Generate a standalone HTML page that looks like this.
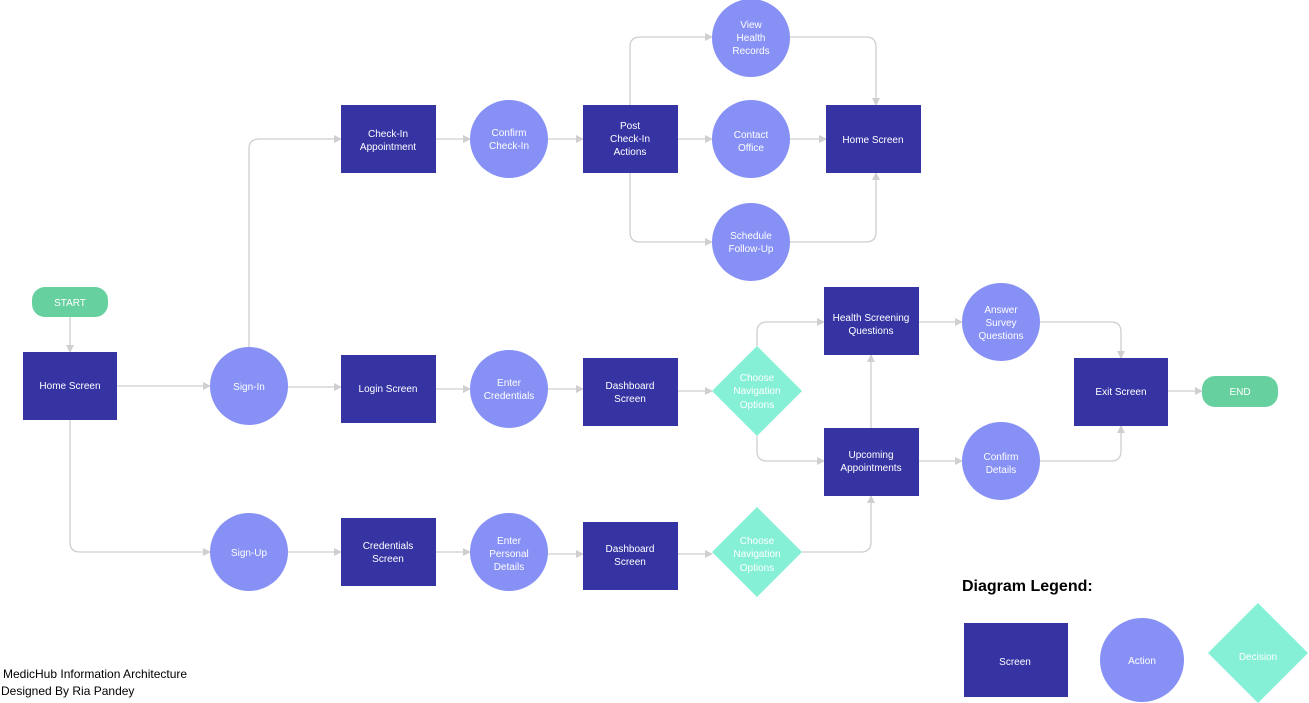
<!DOCTYPE html>
<html><head><meta charset="utf-8"><style>
html,body{margin:0;padding:0;background:#fff;}
svg{display:block}
text{font-family:"Liberation Sans",sans-serif;font-size:10px;fill:#fff;text-anchor:middle;}
.r{fill:#3633a3}
.c{fill:#8690f5}
.d{fill:#86f0d7}
.p{fill:#66d19e}
.l{fill:none;stroke:#d0cece;stroke-width:1.3}
</style></head><body>
<svg width="1309" height="703" viewBox="0 0 1309 703">
<defs><marker id="a" markerWidth="8" markerHeight="8" refX="7" refY="4" orient="auto" markerUnits="userSpaceOnUse"><path d="M0,0 L8,4 L0,8 z" fill="#d0cece"/></marker></defs>
<g class="l" marker-end="url(#a)">
<path d="M70,317 V352"/>
<path d="M117,386 H210"/>
<path d="M249,347 V149 Q249,139 259,139 H341"/>
<path d="M70,420 V542 Q70,552 80,552 H210"/>
<path d="M288,387 H341"/>
<path d="M436,389 H470"/>
<path d="M548,389 H583"/>
<path d="M678,391 H712"/>
<path d="M757,346 V332 Q757,322 767,322 H824"/>
<path d="M757,436 V451 Q757,461 767,461 H824"/>
<path d="M919,322 H962"/>
<path d="M1040,322 H1111 Q1121,322 1121,332 V358"/>
<path d="M919,461 H962"/>
<path d="M1040,461 H1111 Q1121,461 1121,451 V426"/>
<path d="M871,428 V355"/>
<path d="M1168,391 H1202"/>
<path d="M802,552 H861 Q871,552 871,542 V496"/>
<path d="M288,552 H341"/>
<path d="M436,552 H470"/>
<path d="M548,554 H583"/>
<path d="M678,554 H712"/>
<path d="M436,139 H470"/>
<path d="M548,139 H583"/>
<path d="M630,105 V47 Q630,37 640,37 H712"/>
<path d="M678,139 H712"/>
<path d="M630,173 V232 Q630,242 640,242 H712"/>
<path d="M790,37 H866 Q876,37 876,47 V105"/>
<path d="M790,139 H826"/>
<path d="M790,242 H866 Q876,242 876,232 V173"/>
</g>
<rect class="p" x="32" y="287" width="76" height="30" rx="13"/><text x="70" y="306">START</text>
<rect class="r" x="23" y="352" width="94" height="68"/><text x="70" y="389">Home Screen</text>
<circle class="c" cx="249" cy="386" r="39"/><text x="249" y="390">Sign-In</text>
<rect class="r" x="341" y="355" width="95" height="68"/><text x="388" y="392">Login Screen</text>
<circle class="c" cx="509" cy="389" r="39"/><text x="509" y="386">Enter</text><text x="509" y="399">Credentials</text>
<rect class="r" x="583" y="358" width="95" height="68"/><text x="630" y="389">Dashboard</text><text x="630" y="402">Screen</text>
<polygon class="d" points="757,346 802,391 757,436 712,391"/><text x="757" y="381">Choose</text><text x="757" y="394">Navigation</text><text x="757" y="408">Options</text>
<rect class="r" x="824" y="287" width="95" height="68"/><text x="871" y="321">Health Screening</text><text x="871" y="334">Questions</text>
<circle class="c" cx="1001" cy="322" r="39"/><text x="1001" y="313">Answer</text><text x="1001" y="326">Survey</text><text x="1001" y="339">Questions</text>
<rect class="r" x="824" y="428" width="95" height="68"/><text x="871" y="458">Upcoming</text><text x="871" y="471">Appointments</text>
<circle class="c" cx="1001" cy="461" r="39"/><text x="1001" y="460">Confirm</text><text x="1001" y="473">Details</text>
<rect class="r" x="1074" y="358" width="94" height="68"/><text x="1121" y="395">Exit Screen</text>
<rect class="p" x="1202" y="376" width="76" height="31" rx="13"/><text x="1240" y="395">END</text>
<rect class="r" x="341" y="105" width="95" height="68"/><text x="388" y="137">Check-In</text><text x="388" y="150">Appointment</text>
<circle class="c" cx="509" cy="139" r="39"/><text x="509" y="136">Confirm</text><text x="509" y="149">Check-In</text>
<rect class="r" x="583" y="105" width="95" height="68"/><text x="630" y="129">Post</text><text x="630" y="142">Check-In</text><text x="630" y="155">Actions</text>
<circle class="c" cx="751" cy="38" r="39"/><text x="751" y="28">View</text><text x="751" y="41">Health</text><text x="751" y="54">Records</text>
<circle class="c" cx="751" cy="139" r="39"/><text x="751" y="138">Contact</text><text x="751" y="151">Office</text>
<circle class="c" cx="751" cy="242" r="39"/><text x="751" y="239">Schedule</text><text x="751" y="252">Follow-Up</text>
<rect class="r" x="826" y="105" width="95" height="68"/><text x="873" y="143">Home Screen</text>
<circle class="c" cx="249" cy="552" r="39"/><text x="249" y="556">Sign-Up</text>
<rect class="r" x="341" y="518" width="95" height="68"/><text x="388" y="549">Credentials</text><text x="388" y="562">Screen</text>
<circle class="c" cx="509" cy="552" r="39"/><text x="509" y="544">Enter</text><text x="509" y="557">Personal</text><text x="509" y="570">Details</text>
<rect class="r" x="583" y="522" width="95" height="68"/><text x="630" y="552">Dashboard</text><text x="630" y="565">Screen</text>
<polygon class="d" points="757,507 802,552 757,597 712,552"/><text x="757" y="544">Choose</text><text x="757" y="557">Navigation</text><text x="757" y="571">Options</text>
<text x="962" y="591" style="fill:#000;font-size:16px;font-weight:bold;text-anchor:start">Diagram Legend:</text>
<rect class="r" x="964" y="623" width="104" height="74"/><text x="1015" y="665">Screen</text>
<circle class="c" cx="1142" cy="660" r="42"/><text x="1142" y="664">Action</text>
<polygon class="d" points="1258,603 1308,653 1258,703 1208,653"/><text x="1258" y="660">Decision</text>
<text x="3" y="678" style="fill:#000;font-size:12px;text-anchor:start">MedicHub Information Architecture</text>
<text x="1" y="695" style="fill:#000;font-size:12px;text-anchor:start">Designed By Ria Pandey</text>
</svg>
</body></html>
